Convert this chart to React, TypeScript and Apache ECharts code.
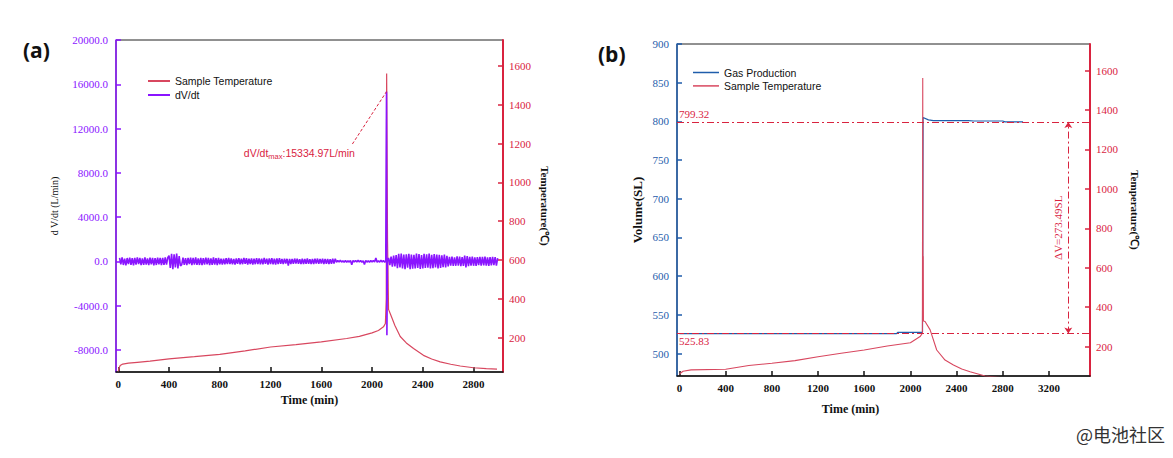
import React, { useEffect, useRef } from 'react';
import * as echarts from 'echarts';

// ---------- Panel (a) data ----------
const xTicksA = [0, 400, 800, 1200, 1600, 2000, 2400, 2800];
const dvdtTicks = [-8000, -4000, 0, 4000, 8000, 12000, 16000, 20000];
const tempTicks = [200, 400, 600, 800, 1000, 1200, 1400, 1600];

const tempATime = [0, 5, 15, 35, 80, 150, 250, 400, 600, 800, 1000, 1200, 1400, 1600, 1800, 1900, 2000, 2050, 2090, 2105, 2112, 2115, 2122, 2130, 2150, 2180, 2222, 2270, 2327, 2405, 2470, 2537, 2620, 2695, 2800, 2900, 2985];
const tempAValue = [25, 40, 55, 63, 68, 72, 78, 90, 101, 113, 131, 151, 163, 177, 195, 206, 224, 236, 255, 272, 400, 1562, 700, 345, 312, 262, 205, 172, 143, 108, 89, 74, 62, 53, 44, 39, 37];

const NOISE_STEP = 10;
const noiseEarlyStart = 10;
const dvdtNoiseEarly = [
  310, -280, 350, -330, 240, -360, 300, -250, 340, -310, 280, -370, 320, -290, 360, -240, 300, -340, 270, -320,
  350, -300, 260, -350, 330, -280, 310, -360, 290, -330, 340, -270, 320, -350, 300, -310, 360, -290, 330,
  520, -600, 680, -720, 640, -560, 700, -650, 480, -420,
  -300, 340, -320, 280, -350, 310, -260, 330, -340, 300, -290, 350, -310, 270, -330, 320, -350, 290, -300, 340,
  -280, 310, -330, 260, -320, 350, -300, 290, -340, 310,
  -270, 250, -290, 230, -260, 280, -240, 300, -250, 270, -280, 220, -300, 260, -230, 290, -270, 240, -260, 300,
  -220, 280, -290, 250, -240, 270, -300, 230, -260, 290, -250, 260, -280, 240, -270, 300, -230, 250, -290, 270,
  -240, 280, -260, 230, -300, 260, -250, 290,
  -230, 210, -250, 240, -200, 230, -380, 220, -240, 210, -230, 250, -210, 240, -220, 200, -250, 230, -240, 210,
  -220, 260, -230, 200, -250, 220, -240, 230, -210, 250, -230, 220, -200, 240, -250, 210, -230, 220, -240, 200,
  -220, 230, -210, 240,
  -80, 70, -60, 90, -70, 60, -80, 70, -90, 60, -70, 80, -300, 70, -60, 80, -70, 90, -60, 70,
  -80, 60, -280, 80, -70, 60, -90, 70, -60, 80, -70, 300, -80, 60, -70, 90, -60, 70, -80,
];
const dvdtSpikeTime = [2108, 2114, 2117, 2121];
const dvdtSpikeValue = [0, 15334.97, -6670, 0];
const noiseLateStart = 2130;
const dvdtNoiseLate = [
  300, -350, 420, -480, 520, -450, 560,
  -620, 680, -560, 700, -650, 600, -720, 640, -580, 690, -700, 620, -660, 580, -640, 710, -600, 650, -690, 560,
  -630, 670, -600, 640, -580, 700, -650, 590, -620, 660, -560, 610, -640, 580, -600, 550, -520, 600, -560, 500,
  -450, 400, -380, 430, -420, 360, -400, 450, -390, 420, -440, 380, -410, 520, -560, 480, -430, 400, -380, 420,
  -400, 360, -420, 390, -350, 410, -380, 400, -360, 420, -390, 350, -400, 380, -370, 410, -350, 390, -380, 300,
];
const dvdtMaxLabel = ':15334.97L/min';

// ---------- Panel (b) data ----------
const xTicksB = [0, 400, 800, 1200, 1600, 2000, 2400, 2800, 3200];
const volTicks = [500, 550, 600, 650, 700, 750, 800, 850, 900];

const gasTime = [0, 1880, 1890, 2105, 2110, 2156, 2200, 2500, 2550, 2800, 2820, 2976];
const gasValue = [525.83, 525.83, 527.5, 527.5, 805, 802, 801, 801, 800.5, 800.5, 799.32, 799.32];

const tempBTime = [0, 10, 30, 100, 400, 600, 800, 1000, 1200, 1400, 1600, 1800, 2000, 2084, 2104, 2107, 2109, 2111, 2113, 2127, 2171, 2228, 2300, 2373, 2445, 2517, 2647, 2800, 3000];
const tempBValue = [60, 66, 75, 82, 85, 104, 116, 129, 149, 166, 183, 203, 220, 251, 268, 1563, 420, 659, 330, 327, 285, 183, 132, 107, 87, 73, 51, 42, 36];

const volHigh = 799.32;
const volLow = 525.83;
const deltaV = 273.49;
const deltaVTime = 3368;

const FONT = '"Liberation Serif", "Times New Roman", serif';
const SANS = '"Liberation Sans", Arial, sans-serif';
const PURPLE = '#8a14ff';
const RED = '#d9233f';
const TEMP = '#d8475f';
const BLUE = '#1f5dab';
const INK = '#111';

const zip = (t: number[], v: number[]) => t.map((x, i) => [x, v[i]]);

function buildDvdt() {
  const out: number[][] = [];
  dvdtNoiseEarly.forEach((v, i) => out.push([noiseEarlyStart + i * NOISE_STEP, v]));
  dvdtSpikeTime.forEach((t, i) => out.push([t, dvdtSpikeValue[i]]));
  dvdtNoiseLate.forEach((v, i) => out.push([noiseLateStart + i * NOISE_STEP, v]));
  return out;
}

const plain = (v: number) => String(v);

function xAxisDef(grid: number, min: number, max: number, ticks: number[], gap: number, pad: number[]) {
  return {
    type: 'value', gridIndex: grid, min, max,
    axisLine: { onZero: false, lineStyle: { color: INK, width: 1.5 } },
    axisTick: { inside: true, length: 5, customValues: ticks, lineStyle: { color: INK, width: 1.5 } },
    axisLabel: { customValues: ticks, color: INK, fontSize: 11, fontWeight: 'bold', margin: 6, fontFamily: FONT, formatter: plain },
    splitLine: { show: false },
    name: 'Time (min)', nameLocation: 'middle', nameGap: gap,
    nameTextStyle: { fontSize: 12, fontWeight: 'bold', color: INK, fontFamily: FONT, padding: pad },
  };
}

function yAxisDef(grid: number, pos: string, min: number, max: number, ticks: number[], color: string, lw: number,
  name: string, rot: number, gap: number, nameSize: number, nameBold: boolean, fmt: (v: number) => string) {
  return {
    type: 'value', gridIndex: grid, position: pos, min, max,
    axisLine: { show: true, onZero: false, lineStyle: { color, width: lw } },
    axisTick: { show: true, inside: true, length: 5, customValues: ticks, lineStyle: { color, width: 1.5 } },
    axisLabel: { customValues: ticks, color, fontSize: 11, margin: pos === 'left' ? 8 : 6, fontFamily: FONT, formatter: fmt },
    splitLine: { show: false },
    name, nameLocation: 'middle', nameRotate: rot, nameGap: gap,
    nameTextStyle: { fontSize: nameSize, fontWeight: nameBold ? 'bold' : 'normal', color: INK, fontFamily: FONT },
  };
}

export default function App() {
  const ref = useRef<HTMLDivElement>(null);
  useEffect(() => {
    if (!ref.current) return;
    const chart = echarts.init(ref.current, undefined, { renderer: 'svg' });
    const option: any = {
      animation: false,
      textStyle: { fontFamily: FONT },
      grid: [
        { left: 116, top: 40, width: 387, height: 332, show: true, borderColor: '#222', borderWidth: 1, outerBoundsMode: 'none' },
        { left: 677, top: 44, width: 413, height: 332, show: true, borderColor: '#222', borderWidth: 1, outerBoundsMode: 'none' },
      ],
      xAxis: [
        xAxisDef(0, -18, 3032, xTicksA, 20, [0, 0, 0, 0]),
        xAxisDef(1, -22, 3556, xTicksB, 27, [0, 66, 0, 0]),
      ],
      yAxis: [
        yAxisDef(0, 'left', -10000, 20000, dvdtTicks, PURPLE, 1.5, 'd V/dt (L/min)', 90, 57, 10, false, (v: number) => v.toFixed(1)),
        yAxisDef(0, 'right', 22, 1735, tempTicks, RED, 2, 'Temperature(℃)', -90, 36, 11, true, plain),
        yAxisDef(1, 'left', 471, 900, volTicks, BLUE, 1.5, 'Volume(SL)', 90, 33, 13, true, plain),
        yAxisDef(1, 'right', 51, 1735, tempTicks, RED, 2, 'Temperature(℃)', -90, 39, 11, true, plain),
      ],
      legend: [
        {
          orient: 'vertical', left: 148, top: 75, padding: 0, itemWidth: 22, itemHeight: 2, itemGap: 2, icon: 'rect',
          data: [{ name: 'Sample Temperature', itemStyle: { color: TEMP } }, { name: 'dV/dt', itemStyle: { color: PURPLE } }],
          textStyle: { fontFamily: SANS, fontSize: 10.5, color: INK, lineHeight: 12 },
        },
        {
          orient: 'vertical', left: 693, top: 67, padding: 0, itemWidth: 26, itemHeight: 1.5, itemGap: 2.4, icon: 'rect',
          data: [{ name: 'Gas Production', itemStyle: { color: BLUE } }, { name: 'Sample Temperature', itemStyle: { color: TEMP } }],
          textStyle: { fontFamily: SANS, fontSize: 10.5, color: INK, lineHeight: 11 },
        },
      ],
      graphic: [
        { type: 'text', left: 23, top: 39, style: { text: '(a)', font: 'bold 21px "Open Sans"', fill: INK } },
        { type: 'text', left: 598, top: 43, style: { text: '(b)', font: 'bold 21px "Open Sans"', fill: INK } },
        { type: 'text', right: 8, top: 425, style: { text: '@电池社区', font: '18px "Noto Sans CJK SC"', fill: '#333' } },
      ],
      series: [
        {
          name: 'Sample Temperature', type: 'line', xAxisIndex: 0, yAxisIndex: 1, data: zip(tempATime, tempAValue),
          symbol: 'none', lineStyle: { color: TEMP, width: 1.2 }, itemStyle: { color: TEMP },
        },
        {
          name: 'dV/dt', type: 'line', xAxisIndex: 0, yAxisIndex: 0, data: buildDvdt(),
          symbol: 'none', lineStyle: { color: PURPLE, width: 1.6 }, itemStyle: { color: PURPLE },
          markLine: {
            silent: true, symbol: ['none', 'none'], animation: false,
            lineStyle: { color: RED, type: [3, 2], width: 1 }, label: { show: false },
            data: [[{ coord: [1845, 10600] }, { coord: [2114, 15334.97] }]],
          },
          markPoint: {
            silent: true, symbol: 'circle', symbolSize: 1, itemStyle: { color: 'rgba(0,0,0,0)' },
            data: [{ coord: [1845, 10600] }],
            label: {
              show: true, position: 'left', offset: [8, 9],
              formatter: '{t|dV/dt}{s|max}{t|' + dvdtMaxLabel + '}',
              rich: {
                t: { fontSize: 10.5, color: RED, fontFamily: SANS },
                s: { fontSize: 7.5, color: RED, fontFamily: SANS, padding: [7, 0, 0, 0] },
              },
            },
          },
        },
        {
          name: 'Gas Production', type: 'line', xAxisIndex: 1, yAxisIndex: 2, data: zip(gasTime, gasValue),
          symbol: 'none', lineStyle: { color: BLUE, width: 1.2 }, itemStyle: { color: BLUE },
          markLine: {
            silent: true, symbol: ['none', 'none'], animation: false,
            lineStyle: { color: RED, type: [7, 3, 2, 3], width: 1 },
            label: { color: RED, fontSize: 11, fontFamily: FONT },
            data: [
              { yAxis: volHigh, label: { formatter: volHigh.toFixed(2), position: 'insideStartTop', distance: 2 } },
              { yAxis: volLow, label: { formatter: volLow.toFixed(2), position: 'insideStartBottom', distance: 2 } },
              [
                { coord: [deltaVTime, volLow], symbol: 'arrow', symbolSize: 6, label: { show: true, formatter: 'ΔV=' + deltaV + 'SL', position: 'insideMiddleTop', fontSize: 11, color: RED } },
                { coord: [deltaVTime, volHigh], symbol: 'arrow', symbolSize: 6 },
              ],
            ],
          },
        },
        {
          name: 'Sample Temperature', type: 'line', xAxisIndex: 1, yAxisIndex: 3, data: zip(tempBTime, tempBValue),
          symbol: 'none', lineStyle: { color: TEMP, width: 1.1 }, itemStyle: { color: TEMP },
        },
      ],
    };
    chart.setOption(option);
    return () => chart.dispose();
  }, []);
  return <div ref={ref} style={{ position: 'fixed', left: 0, top: 0, width: 1173, height: 458, background: '#fff' }} />;
}
